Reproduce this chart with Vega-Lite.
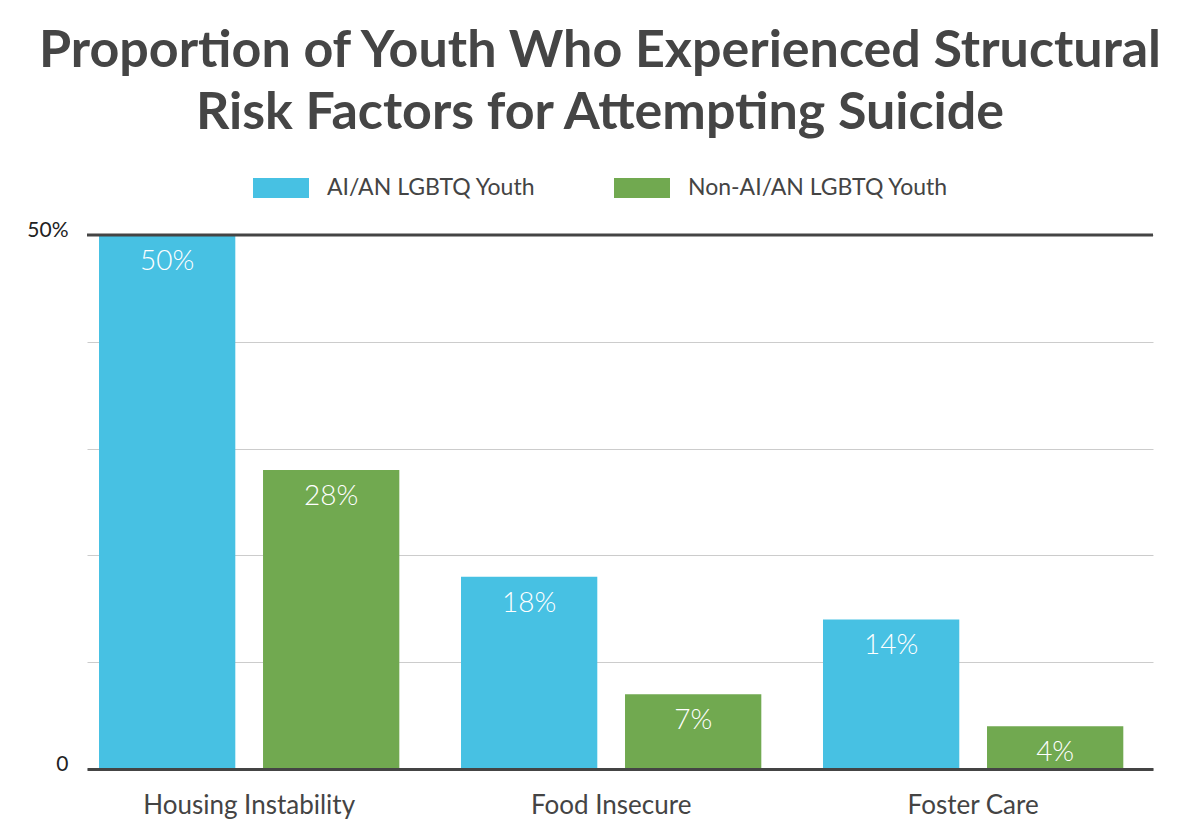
{
  "$schema": "https://vega.github.io/schema/vega-lite/v6.json",
  "width": 1066,
  "height": 534,
  "autosize": {"type": "none"},
  "padding": {"left": 87, "right": 47, "top": 235, "bottom": 69},
  "background": "white",
  "config": {"view": {"stroke": null}, "font": "Lato"},
  "title": {
    "text": ["Proportion of Youth Who Experienced Structural", "Risk Factors for Attempting Suicide"],
    "font": "Lato",
    "fontSize": 52,
    "fontWeight": "bold",
    "color": "#454545",
    "lineHeight": 62.5,
    "anchor": "middle",
    "frame": "group",
    "dx": -20,
    "offset": 20
  },
  "layer": [
    {
      "data": {
        "values": [
          {"factor": "Housing Instability", "group": "AI/AN LGBTQ Youth", "value": 50, "label": "50%"},
          {"factor": "Housing Instability", "group": "Non-AI/AN LGBTQ Youth", "value": 28, "label": "28%"},
          {"factor": "Food Insecure", "group": "AI/AN LGBTQ Youth", "value": 18, "label": "18%"},
          {"factor": "Food Insecure", "group": "Non-AI/AN LGBTQ Youth", "value": 7, "label": "7%"},
          {"factor": "Foster Care", "group": "AI/AN LGBTQ Youth", "value": 14, "label": "14%"},
          {"factor": "Foster Care", "group": "Non-AI/AN LGBTQ Youth", "value": 4, "label": "4%"}
        ]
      },
      "encoding": {
        "x": {
          "field": "factor",
          "type": "nominal",
          "sort": ["Housing Instability", "Food Insecure", "Foster Care"],
          "scale": {"paddingInner": 0.1704, "paddingOuter": 0.0576, "align": 0.288},
          "title": null,
          "axis": {
            "labelAngle": 0,
            "labelFont": "Lato",
            "labelFontSize": 26,
            "labelColor": "#444444",
            "labelBaseline": "alphabetic",
            "labelPadding": 44,
            "labelLimit": 500,
            "ticks": false,
            "tickSize": 0,
            "domainColor": "#444444",
            "domainWidth": 3,
            "grid": false,
            "zindex": 1
          }
        },
        "xOffset": {
          "field": "group",
          "type": "nominal",
          "sort": ["AI/AN LGBTQ Youth", "Non-AI/AN LGBTQ Youth"],
          "scale": {"paddingInner": 0.169, "paddingOuter": 0}
        },
        "y": {
          "field": "value",
          "type": "quantitative",
          "scale": {"domain": [0, 50], "nice": false},
          "title": null,
          "axis": {
            "values": [0, 10, 20, 30, 40, 50],
            "labelExpr": "datum.value === 50 ? '50%' : (datum.value === 0 ? '0' : '')",
            "labelFont": "Lato",
            "labelFontSize": 21,
            "labelColor": "#222222",
            "labelBaseline": "alphabetic",
            "labelPadding": 19,
            "labelOffset": 1.5,
            "ticks": false,
            "tickSize": 0,
            "domain": false,
            "grid": true,
            "gridColor": "#cccccc",
            "gridWidth": 1
          }
        }
      },
      "layer": [
        {
          "mark": {"type": "bar"},
          "encoding": {
            "color": {
              "field": "group",
              "type": "nominal",
              "scale": {"domain": ["AI/AN LGBTQ Youth", "Non-AI/AN LGBTQ Youth"], "range": ["#47C1E3", "#71A950"]},
              "legend": {
                "orient": "none",
                "legendX": 166,
                "legendY": -75,
                "direction": "horizontal",
                "title": null,
                "symbolType": "M-1,-0.357H1V0.357H-1Z",
                "symbolSize": 3136,
                "symbolStrokeWidth": 0,
                "symbolOpacity": 1,
                "labelOffset": 18,
                "columnPadding": 78,
                "labelFont": "Lato",
                "labelFontSize": 23,
                "labelColor": "#444444",
                "labelLimit": 400
              }
            }
          }
        },
        {
          "mark": {"type": "text", "baseline": "alphabetic", "dy": 35, "color": "white", "fontSize": 28, "font": "Lato", "fontWeight": 300},
          "encoding": {"text": {"field": "label"}}
        }
      ]
    },
    {
      "data": {"values": [{"top": 50}]},
      "mark": {"type": "rule", "color": "#444444", "strokeWidth": 3},
      "encoding": {"y": {"field": "top", "type": "quantitative"}}
    }
  ]
}
